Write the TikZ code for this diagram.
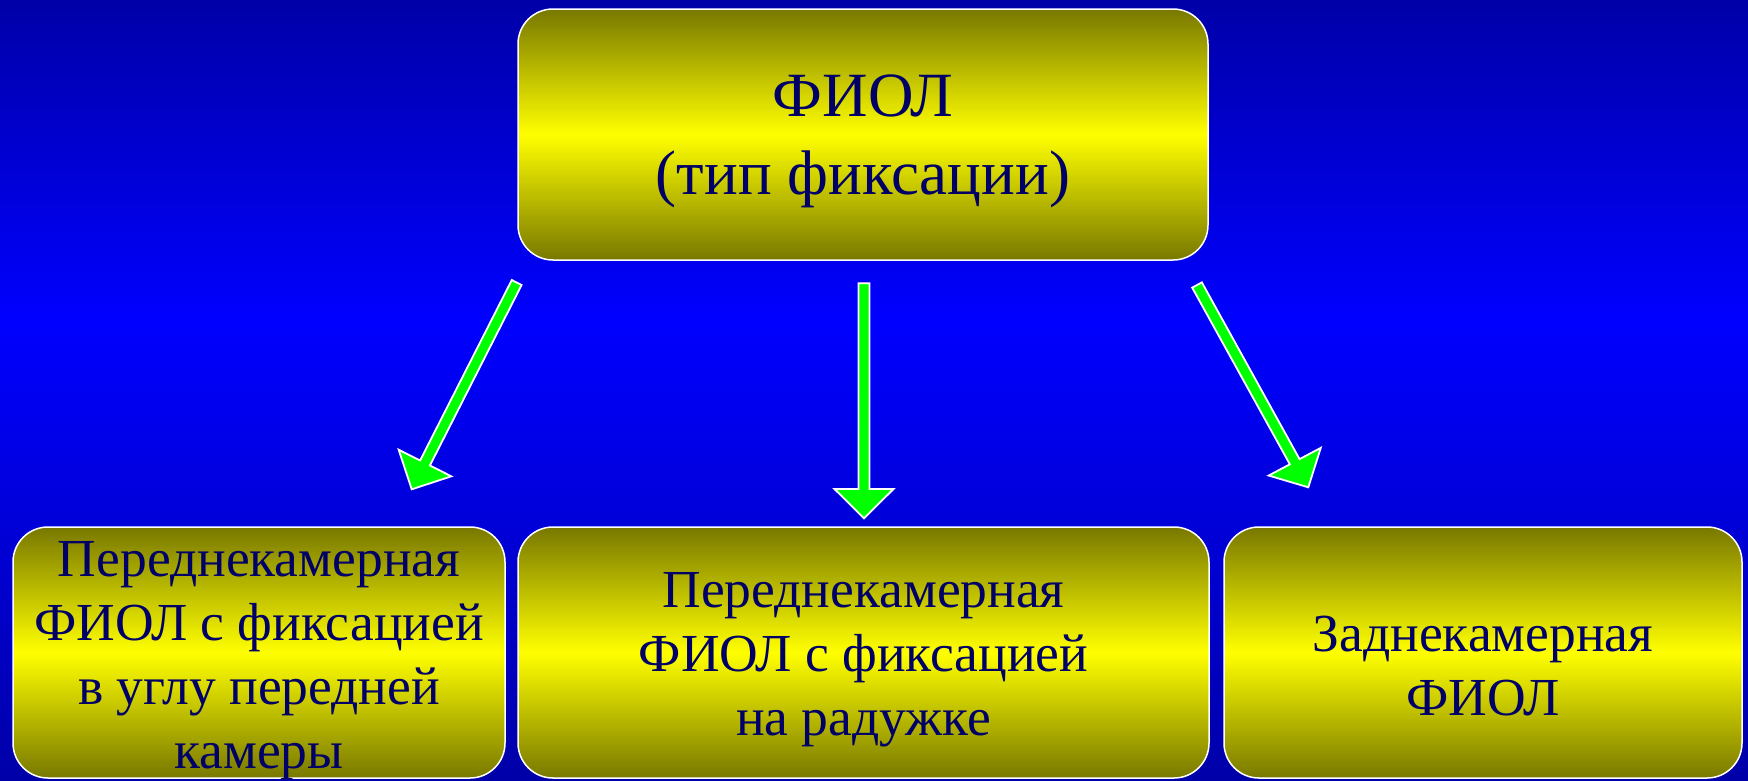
\documentclass[tikz,border=0pt]{standalone}
\usepackage{fontspec}
\setmainfont{Liberation Serif}
\usetikzlibrary{calc}
\definecolor{bgdark}{RGB}{0,0,168}
\definecolor{bgbright}{RGB}{0,0,255}
\definecolor{olivedark}{RGB}{120,120,0}
\definecolor{txt}{RGB}{0,0,102}
\definecolor{arrowgreen}{RGB}{0,255,0}
\newcommand\fatarrow[3]{%
  \draw[fatarrowstyle] ($(#1)!5.5pt!90:(#3)$) -- ($(#2)!5.5pt!90:(#3)$) -- ($(#2)!29.5pt!90:(#3)$) -- (#3)
    -- ($(#2)!29.5pt!-90:(#3)$) -- ($(#2)!5.5pt!-90:(#3)$) -- ($(#1)!5.5pt!-90:(#3)$) -- cycle;}
\begin{document}
\begin{tikzpicture}[x=1pt,y=-1pt,
  box/.style={draw=white, line width=1.5pt, rounded corners=35pt,
    top color=olivedark, bottom color=olivedark, middle color=yellow,
    inner sep=0pt, minimum height=251pt},
  boxtext/.style={text=txt, align=center, inner sep=0pt},
  topfont/.style={font=\fontsize{63}{78}\selectfont},
  botfont/.style={font=\fontsize{53.5}{64}\selectfont},
  fatarrowstyle/.style={draw=white, line width=1.8pt, fill=arrowgreen, line join=miter}]
\useasboundingbox (0,0) rectangle (1748,780);
\fill[top color=bgdark, bottom color=bgbright] (0,0) rectangle (1748,320);
\fill[top color=bgbright, bottom color=bgdark] (0,319) rectangle (1748,780);

\node[box, minimum width=690pt] (top) at (863,134.5) {};
\node[box, minimum width=492pt] (left) at (259,652.5) {};
\node[box, minimum width=691pt] (mid) at (863.5,652.5) {};
\node[box, minimum width=518pt] (right) at (1483,652.5) {};

\node[boxtext, topfont] (toptext) at ($(top.center)+(0,7)$) {ФИОЛ\\(тип фиксации)};
\node[boxtext, botfont] (lefttext) at ($(left.center)+(0,8)$) {Переднекамерная\\ФИОЛ с фиксацией\\в углу передней\\камеры};
\node[boxtext, botfont] (midtext) at ($(mid.center)+(0,7)$) {Переднекамерная\\ФИОЛ с фиксацией\\на радужке};
\node[boxtext, botfont] (righttext) at ($(right.center)+(0,14)$) {Заднекамерная\\ФИОЛ};

\coordinate (ls) at (516.7,282.5);
\coordinate (lb) at (425,463);
\coordinate (lt) at (411.7,489.3);
\coordinate (ms) at (864,283.3);
\coordinate (mb) at (864,489);
\coordinate (mt) at (864,518.3);
\coordinate (rs) at (1197,285);
\coordinate (rb) at (1294.7,461.7);
\coordinate (rt) at (1308.3,487.3);
\fatarrow{ls}{lb}{lt}
\fatarrow{ms}{mb}{mt}
\fatarrow{rs}{rb}{rt}
\end{tikzpicture}
\end{document}
